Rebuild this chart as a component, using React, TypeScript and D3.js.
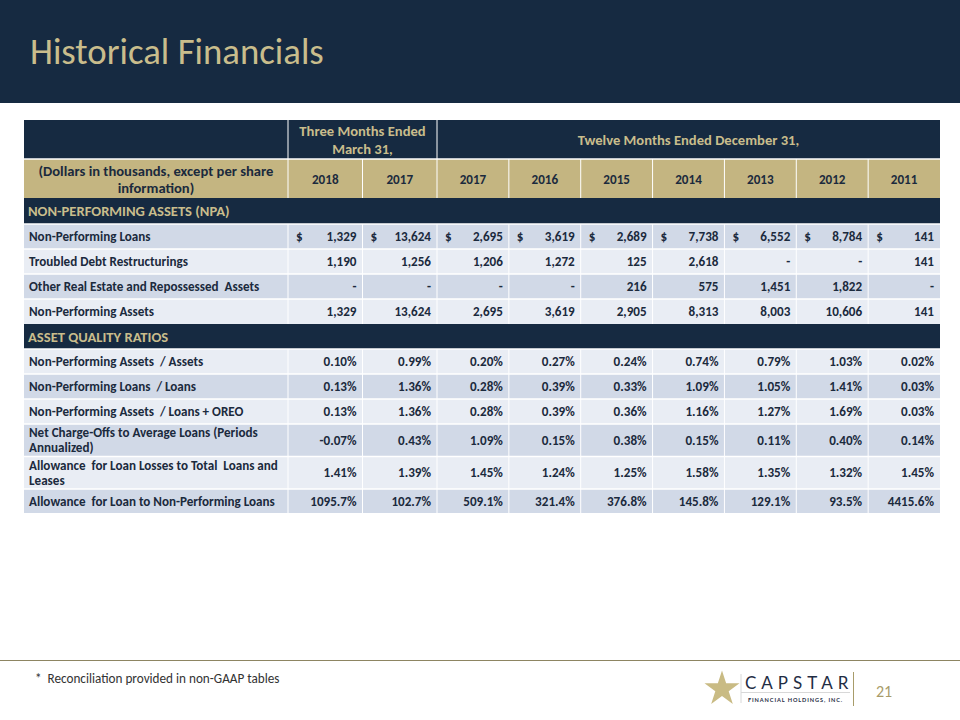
import React from "react";
import * as d3 from "d3";

// ---------- DATA ----------
const title = "Historical Financials";
const threeMonthsLabel = ["Three Months Ended", "March 31,"];
const twelveMonthsLabel = "Twelve Months Ended December 31,";
const unitsLabel = ["(Dollars in thousands, except per share", "information)"];
const threeMonthPeriods = ["2018", "2017"];
const twelveMonthPeriods = ["2017", "2016", "2015", "2014", "2013", "2012", "2011"];

const npaSectionTitle = "NON-PERFORMING ASSETS (NPA)";
const npaLabels = [
  "Non-Performing Loans",
  "Troubled Debt Restructurings",
  "Other Real Estate and Repossessed  Assets",
  "Non-Performing Assets",
];
const nonPerformingLoans = [1329, 13624, 2695, 3619, 2689, 7738, 6552, 8784, 141];
const troubledDebt = [1190, 1256, 1206, 1272, 125, 2618, null, null, 141];
const otherRealEstate = [null, null, null, null, 216, 575, 1451, 1822, null];
const nonPerformingAssets = [1329, 13624, 2695, 3619, 2905, 8313, 8003, 10606, 141];

const ratioSectionTitle = "ASSET QUALITY RATIOS";
const ratioLabels = [
  ["Non-Performing Assets  / Assets"],
  ["Non-Performing Loans  / Loans"],
  ["Non-Performing Assets  / Loans + OREO"],
  ["Net Charge-Offs to Average Loans (Periods", "Annualized)"],
  ["Allowance  for Loan Losses to Total  Loans and", "Leases"],
  ["Allowance  for Loan to Non-Performing Loans"],
];
const npaToAssets = [0.1, 0.99, 0.2, 0.27, 0.24, 0.74, 0.79, 1.03, 0.02];
const nplToLoans = [0.13, 1.36, 0.28, 0.39, 0.33, 1.09, 1.05, 1.41, 0.03];
const npaToLoansOreo = [0.13, 1.36, 0.28, 0.39, 0.36, 1.16, 1.27, 1.69, 0.03];
const netChargeOffs = [-0.07, 0.43, 1.09, 0.15, 0.38, 0.15, 0.11, 0.4, 0.14];
const allowanceToLoans = [1.41, 1.39, 1.45, 1.24, 1.25, 1.58, 1.35, 1.32, 1.45];
const allowanceToNpl = [1095.7, 102.7, 509.1, 321.4, 376.8, 145.8, 129.1, 93.5, 4415.6];

const footnote = "*  Reconciliation provided in non-GAAP tables";
const pageNumber = "21";
const logoName = "CAPSTAR";
const logoSub = "FINANCIAL HOLDINGS, INC.";

// ---------- STYLE ----------
const NAVY = "#162a41";
const GOLD = "#c4b581";
const GOLD_TEXT = "#c9bd8c";
const ROW_DARK = "#d1d9e7";
const ROW_LIGHT = "#e9edf4";
const TEXT = "#1b2a3d";
const FONT = "Carlito, Lato, 'Open Sans', sans-serif";

const W = 960;
const H = 720;
const tableLeft = 24;
const labelRight = 288;
const threeRight = 437;
const tableRight = 940;

const fmtInt = d3.format(",");
const fmtPct2 = (v: number) => d3.format(".2f")(v).replace("−", "-") + "%";
const fmtPct1 = (v: number) => d3.format(".1f")(v) + "%";

type Row =
  | { kind: "section"; title: string; h: number }
  | { kind: "data"; label: string[]; values: (number | null)[]; fmt: (v: number) => string; dollar: boolean; shade: boolean; h: number };

export default function App() {
  const xThree = d3.scaleBand<string>().domain(threeMonthPeriods.map((_, i) => "t" + i)).range([labelRight, threeRight]);
  const xTwelve = d3.scaleBand<string>().domain(twelveMonthPeriods.map((_, i) => "w" + i)).range([threeRight, tableRight]);
  const colKeys = [...threeMonthPeriods.map((_, i) => "t" + i), ...twelveMonthPeriods.map((_, i) => "w" + i)];
  const colX = (k: string) => (k.startsWith("t") ? xThree(k)! : xTwelve(k)!);
  const colW = (k: string) => (k.startsWith("t") ? xThree.bandwidth() : xTwelve.bandwidth());
  const periods = [...threeMonthPeriods, ...twelveMonthPeriods];

  const npaSeries = [nonPerformingLoans, troubledDebt, otherRealEstate, nonPerformingAssets];
  const ratioSeries = [npaToAssets, nplToLoans, npaToLoansOreo, netChargeOffs, allowanceToLoans, allowanceToNpl];

  const rows: Row[] = [
    { kind: "section", title: npaSectionTitle, h: 26 },
    ...npaSeries.map((vals, i) => ({
      kind: "data" as const,
      label: [npaLabels[i]],
      values: vals,
      fmt: fmtInt,
      dollar: i === 0,
      shade: i % 2 === 0,
      h: 25,
    })),
    { kind: "section", title: ratioSectionTitle, h: 25 },
    ...ratioSeries.map((vals, i) => ({
      kind: "data" as const,
      label: ratioLabels[i],
      values: vals,
      fmt: i === 5 ? fmtPct1 : fmtPct2,
      dollar: false,
      shade: i % 2 === 1,
      h: ratioLabels[i].length > 1 ? 32.5 : i === 5 ? 24 : 25,
    })),
  ];

  const headTop = 120;
  const head1H = 39;
  const head2H = 39;
  const bodyTop = headTop + head1H + head2H;
  const offsets = [0, ...(d3.cumsum(rows.map((r) => r.h)) as any)];
  const y = d3.scaleLinear().domain([0, 1]).range([bodyTop, bodyTop + 1]);

  const dataFont = 13.1;
  const headFont = 14.6;

  return (
    <svg width={W} height={H} style={{ position: "absolute", left: 0, top: 0, background: "#fff" }} fontFamily={FONT}>
      <rect x={0} y={0} width={W} height={H} fill="#ffffff" />
      {/* Title bar */}
      <rect x={0} y={0} width={W} height={103} fill={NAVY} />
      <text x={30} y={64} fontSize={36.8} fill={GOLD_TEXT}>
        {title}
      </text>

      {/* Header row 1 */}
      <rect x={tableLeft} y={headTop} width={tableRight - tableLeft} height={head1H} fill={NAVY} />
      <text x={(labelRight + threeRight) / 2} y={headTop + 15.5} textAnchor="middle" fontSize={headFont} fontWeight={700} fill={GOLD_TEXT}>
        {threeMonthsLabel[0]}
      </text>
      <text x={(labelRight + threeRight) / 2} y={headTop + 33.5} textAnchor="middle" fontSize={headFont} fontWeight={700} fill={GOLD_TEXT}>
        {threeMonthsLabel[1]}
      </text>
      <text x={(threeRight + tableRight) / 2} y={headTop + 24.5} textAnchor="middle" fontSize={headFont} fontWeight={700} fill={GOLD_TEXT}>
        {twelveMonthsLabel}
      </text>
      <line x1={labelRight} x2={labelRight} y1={headTop} y2={headTop + head1H} stroke="#fff" strokeWidth={1} />
      <line x1={threeRight} x2={threeRight} y1={headTop} y2={headTop + head1H} stroke="#fff" strokeWidth={1} />

      {/* Header row 2 */}
      <rect x={tableLeft} y={headTop + head1H} width={tableRight - tableLeft} height={head2H} fill={GOLD} />
      <text x={(tableLeft + labelRight) / 2} y={headTop + head1H + 16.5} textAnchor="middle" fontSize={headFont} fontWeight={700} fill={TEXT}>
        {unitsLabel[0]}
      </text>
      <text x={(tableLeft + labelRight) / 2} y={headTop + head1H + 34} textAnchor="middle" fontSize={headFont} fontWeight={700} fill={TEXT}>
        {unitsLabel[1]}
      </text>
      {colKeys.map((k, i) => (
        <g key={"h" + k}>
          <line x1={colX(k)} x2={colX(k)} y1={headTop + head1H} y2={bodyTop} stroke="#fff" strokeWidth={1} />
          <text x={colX(k) + colW(k) / 2} y={headTop + head1H + 25} textAnchor="middle" fontSize={dataFont} fontWeight={700} fill={TEXT}>
            {periods[i]}
          </text>
        </g>
      ))}
      <line x1={tableLeft} x2={tableRight} y1={headTop + head1H} y2={headTop + head1H} stroke="#fff" strokeWidth={1.5} />

      {/* Body */}
      {rows.map((r, ri) => {
        const top = y(offsets[ri]);
        if (r.kind === "section") {
          return (
            <g key={"r" + ri}>
              <rect x={tableLeft} y={top} width={tableRight - tableLeft} height={r.h} fill={NAVY} />
              <text x={tableLeft + 4} y={top + r.h / 2 + 5} fontSize={headFont} fontWeight={700} fill={GOLD_TEXT}>
                {r.title}
              </text>
            </g>
          );
        }
        const mid = top + r.h / 2;
        return (
          <g key={"r" + ri}>
            <rect x={tableLeft} y={top} width={tableRight - tableLeft} height={r.h} fill={r.shade ? ROW_DARK : ROW_LIGHT} />
            {r.label.map((l, li) => (
              <text
                key={li}
                x={tableLeft + 5}
                y={mid + 4.5 + (li - (r.label.length - 1) / 2) * 15}
                fontSize={dataFont}
                fontWeight={700}
                fill={TEXT}
                style={{ whiteSpace: "pre" }}
              >
                {l}
              </text>
            ))}
            {colKeys.map((k, ci) => {
              const v = r.values[ci];
              const x0 = colX(k);
              const x1 = x0 + colW(k);
              return (
                <g key={k}>
                  <line x1={x0} x2={x0} y1={top} y2={top + r.h} stroke="#fff" strokeWidth={1} />
                  {r.dollar && (
                    <text x={x0 + 8} y={mid + 4.5} fontSize={dataFont} fontWeight={700} fill={TEXT}>
                      $
                    </text>
                  )}
                  <text x={x1 - 6} y={mid + 4.5} textAnchor="end" fontSize={dataFont} fontWeight={700} fill={TEXT}>
                    {v === null ? "-" : r.fmt(v)}
                  </text>
                </g>
              );
            })}
            {ri > 0 && <line x1={tableLeft} x2={tableRight} y1={top} y2={top} stroke="#fff" strokeWidth={1.5} />}
          </g>
        );
      })}

      {/* Footer */}
      <line x1={0} x2={W} y1={660.5} y2={660.5} stroke="#8d8562" strokeWidth={1} />
      <text x={35} y={683} fontSize={13.2} fill="#333" style={{ whiteSpace: "pre" }}>
        {footnote}
      </text>
      <path d={d3.symbol(d3.symbolStar, 380)() as string} transform="translate(722,689)" fill="#c9bb84" />
      <line x1={741} x2={741} y1={674} y2={703} stroke="#d8d8d8" strokeWidth={1} />
      <line x1={741} x2={850} y1={692.5} y2={692.5} stroke="#d8d8d8" strokeWidth={1} />
      <text x={745} y={689} fontSize={17} fill="#1f2d44" letterSpacing={5} fontFamily="Lato, sans-serif">
        {logoName}
      </text>
      <text x={748} y={702} fontSize={5.6} fontWeight={700} fill="#1f2d44" letterSpacing={0.9} fontFamily="Lato, sans-serif">
        {logoSub}
      </text>
      <line x1={853.5} x2={853.5} y1={672} y2={706} stroke="#a89c6a" strokeWidth={1} />
      <text x={876} y={697} fontSize={16} fill="#a89c6a">
        {pageNumber}
      </text>
    </svg>
  );
}
